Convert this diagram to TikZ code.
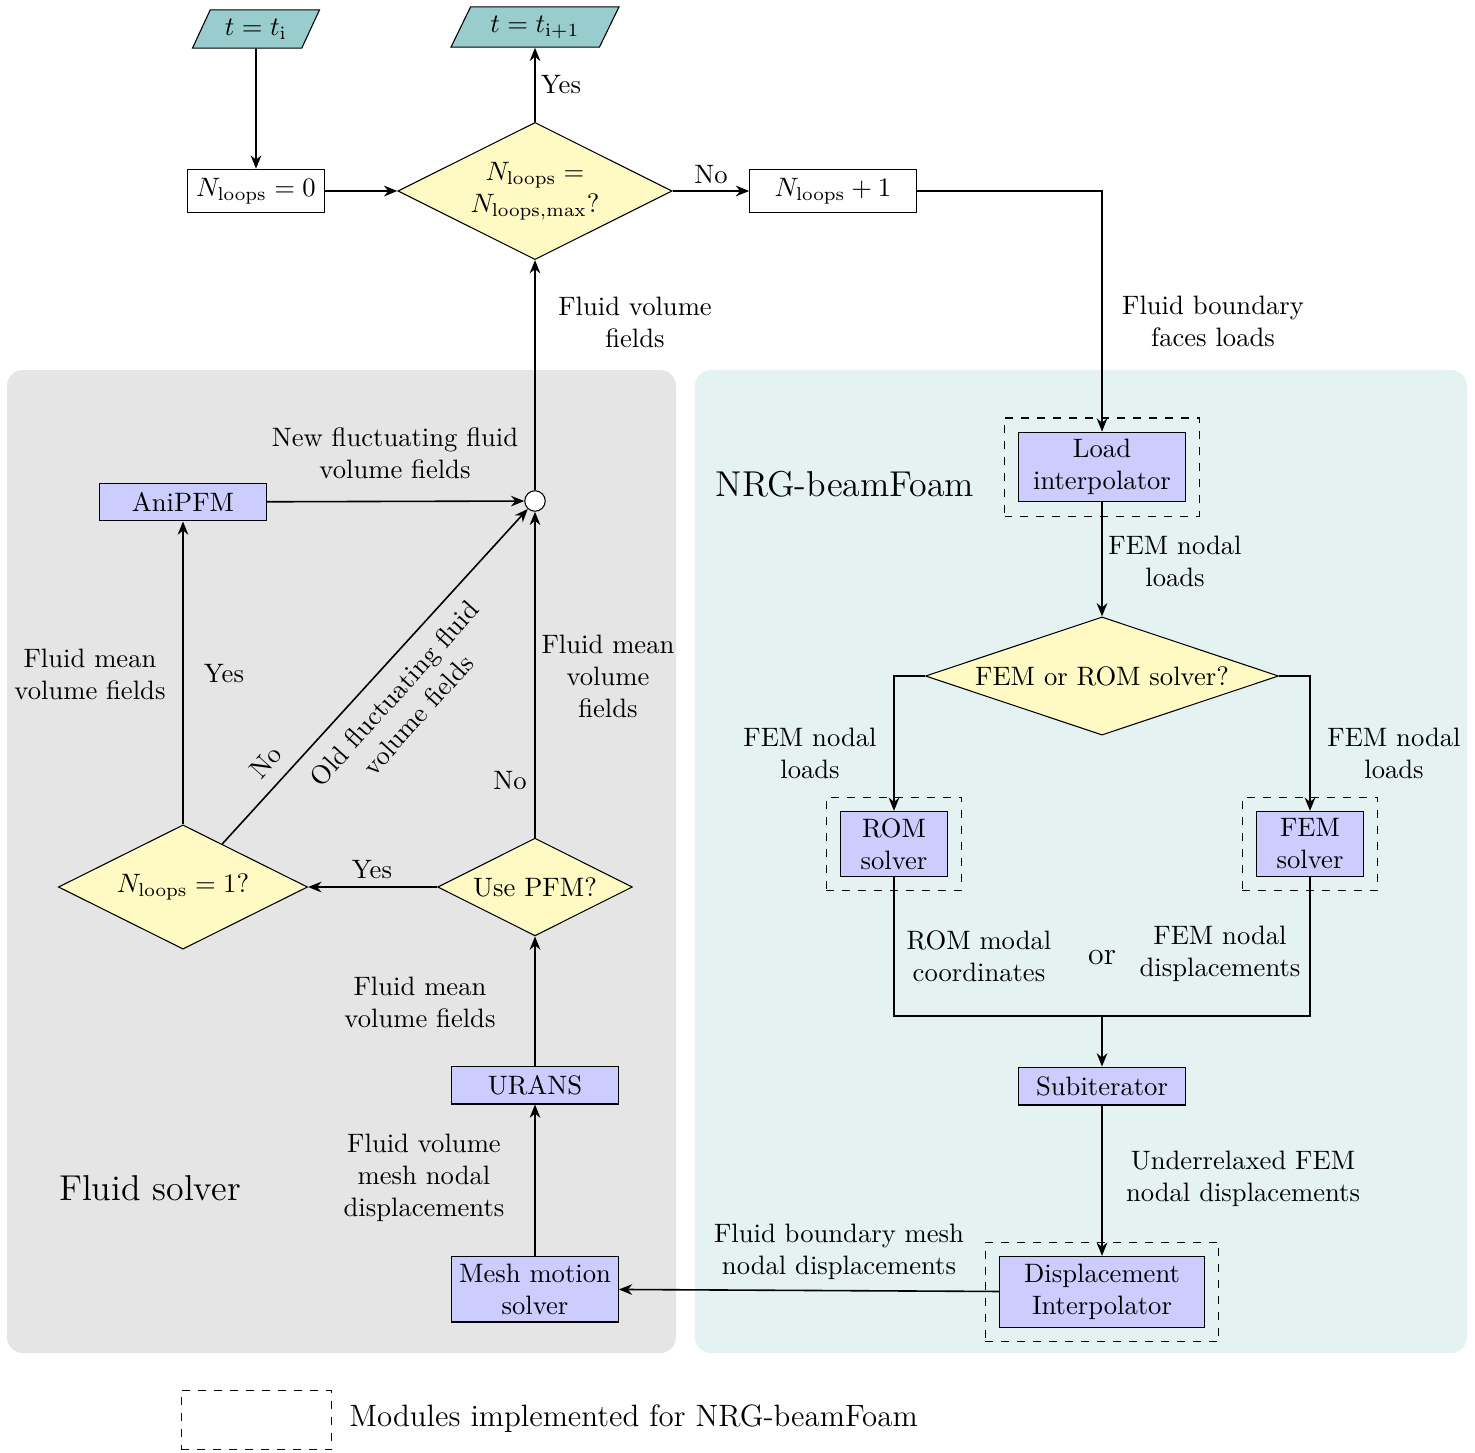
\documentclass[tikz,border=0pt]{standalone}
\usetikzlibrary{shapes.geometric,arrows.meta,fit}
\definecolor{decfill}{RGB}{255,250,196}
\begin{document}
\begin{tikzpicture}[x=0.0132cm,y=-0.0132cm,
    module/.style={draw, fill=blue!20, align=center, inner sep=1pt, minimum width=2.2cm},
    decision/.style={draw, diamond, fill=decfill, align=center, inner sep=0pt},
    timebox/.style={draw, trapezium, trapezium left angle=68, trapezium right angle=112,
        trapezium stretches=true, fill=teal!40, minimum height=0.5cm},
    implbox/.style={draw, dashed, inner sep=0.18cm},
    lbl/.style={align=center},
    flow/.style={semithick, -{Stealth[length=5pt,width=4pt]}}]
        \useasboundingbox (0,0) rectangle (1475,1452);

        \fill [gray!20, rounded corners=6pt] (7,370) rectangle (676,1353);
        \fill [teal!10, rounded corners=6pt] (695,370) rectangle (1467,1353);
        \node [font=\fontsize{13.5}{16}\selectfont] (nrg) at (845,484) {NRG-beamFoam};
        \node [font=\fontsize{13.5}{16}\selectfont] (fsol) at (150,1188) {Fluid solver};

        % loop control
        \node [timebox, minimum width=1.68cm] (ti) at (256,29) {$t=t_{\mathrm{i}}$};
        \node [timebox, minimum width=2.22cm] (tn) at (535,27) {$t=t_{\mathrm{i+1}}$};
        \node [draw, fill=white, minimum width=1.70cm, minimum height=0.54cm] (n0) at (256,191) {$N_{\mathrm{loops}}=0$};
        \node [decision, aspect=2, minimum width=3.62cm, minimum height=1.81cm] (chk) at (535,191) {$N_{\mathrm{loops}}=$\\$N_{\mathrm{loops,max}}$?};
        \node [draw, fill=white, minimum width=2.20cm, minimum height=0.54cm] (inc) at (833,191) {$N_{\mathrm{loops}}+1$};

        % structural side
        \node [module, minimum height=0.92cm] (load) at (1102,467) {Load\\interpolator};
        \node [decision, aspect=3, minimum width=4.66cm, minimum height=1.56cm] (sel) at (1102,676) {FEM or ROM solver?};
        \node [module, minimum width=1.41cm, minimum height=0.86cm] (rom) at (894,844) {ROM\\solver};
        \node [module, minimum width=1.41cm, minimum height=0.86cm] (fem) at (1310,844) {FEM\\solver};
        \node [module, minimum height=0.50cm] (sub) at (1102,1086) {Subiterator};
        \node [module, minimum width=2.71cm, minimum height=0.94cm] (disp) at (1102,1292) {Displacement\\Interpolator};
        \coordinate (mrg) at (1102,1016);

        \node [implbox, fit=(load)] (loadfr) {};
        \node [implbox, fit=(rom)] (romfr) {};
        \node [implbox, fit=(fem)] (femfr) {};
        \node [implbox, fit=(disp)] (dispfr) {};

        % fluid side
        \node [module, minimum height=0.87cm] (mesh) at (535,1289) {Mesh motion\\solver};
        \node [module, minimum height=0.50cm] (urans) at (535,1085) {URANS};
        \node [decision, aspect=2, minimum width=2.57cm, minimum height=1.29cm] (pfm) at (535,887) {Use PFM?};
        \node [decision, aspect=2, minimum width=3.29cm, minimum height=1.64cm] (first) at (183,887) {$N_{\mathrm{loops}}=1$?};
        \node [module, minimum height=0.50cm] (ani) at (183,502) {AniPFM};
        \node [draw, circle, fill=white, minimum size=0.27cm, inner sep=0pt] (sum) at (535,501) {};

        \draw [flow] (ti) -- (n0);
        \draw [flow] (n0) -- (chk);
        \draw [flow] (chk) -- (tn);
        \draw [flow] (chk) -- (inc);
        \draw [flow] (inc) -| (load);
        \draw [flow] (load) -- (sel);
        \draw [flow] (sel) -| (rom);
        \draw [flow] (sel) -| (fem);
        \draw [semithick] (rom) |- (mrg) -| (fem);
        \draw [flow] (mrg) -- (sub);
        \draw [flow] (sub) -- (disp);
        \draw [flow] (disp) -- (mesh);
        \draw [flow] (mesh) -- (urans);
        \draw [flow] (urans) -- (pfm);
        \draw [flow] (pfm) -- (first);
        \draw [flow] (pfm) -- (sum);
        \draw [flow] (first) -- (ani);
        \draw [flow] (first) -- (sum);
        \draw [flow] (ani) -- (sum);
        \draw [flow] (sum) -- (chk);

        \node [lbl] (yes1) at (561,85) {Yes};
        \node [lbl] (no1) at (711,175) {No};
        \node [lbl] (fvf) at (635,322) {Fluid volume\\fields};
        \node [lbl] (fbf) at (1213,321) {Fluid boundary\\faces loads};
        \node [lbl] (newfl) at (395,453) {New fluctuating fluid\\volume fields};
        \node [lbl] (femload) at (1175,561) {FEM nodal\\loads};
        \node [lbl] (meanl) at (90,674) {Fluid mean\\volume fields};
        \node [lbl] (yes2) at (224,674) {Yes};
        \node [lbl, rotate=48] (oldfl) at (406,704) {Old fluctuating fluid\\volume fields};
        \node [lbl, rotate=48] (no2) at (266,762) {No};
        \node [lbl] (meanr) at (608,676) {Fluid mean\\volume\\fields};
        \node [lbl] (no3) at (510,781) {No};
        \node [lbl] (femloadl) at (810,753) {FEM nodal\\loads};
        \node [lbl] (femloadr) at (1394,753) {FEM nodal\\loads};
        \node [lbl] (yes3) at (372,870) {Yes};
        \node [lbl] (romc) at (979,956) {ROM modal\\coordinates};
        \node [lbl, font=\large] (orl) at (1102,958) {or};
        \node [lbl] (femd) at (1220,954) {FEM nodal\\displacements};
        \node [lbl] (meanu) at (420,1002) {Fluid mean\\volume fields};
        \node [lbl] (under) at (1243,1179) {Underrelaxed FEM\\nodal displacements};
        \node [lbl] (meshd) at (424,1178) {Fluid volume\\mesh nodal\\displacements};
        \node [lbl] (bndd) at (839,1252) {Fluid boundary mesh\\nodal displacements};

        \node [draw, dashed, minimum width=1.99cm, minimum height=0.78cm] (key) at (256.5,1420) {};
        \node [anchor=west, font=\fontsize{11.6}{14}\selectfont] (keytxt) at (340,1419) {Modules implemented for NRG-beamFoam};
\end{tikzpicture}
\end{document}
